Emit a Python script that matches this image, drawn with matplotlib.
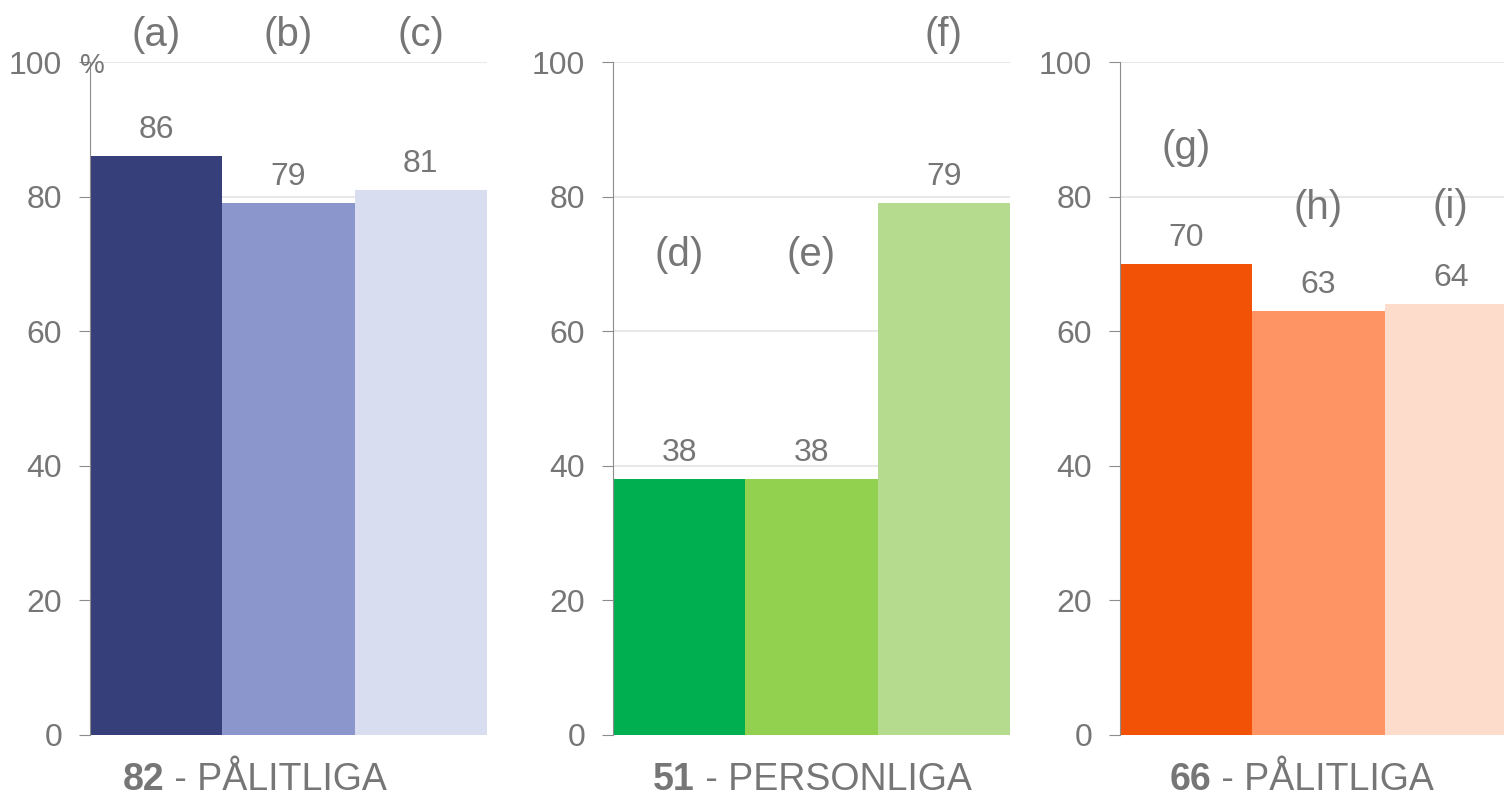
import matplotlib.pyplot as plt

plt.rcParams['font.family'] = ['Liberation Sans', 'DejaVu Sans']

# data
group_titles = ['82', '51', '66']
group_names = ['PÅLITLIGA', 'PERSONLIGA', 'PÅLITLIGA']
letters = [['(a)', '(b)', '(c)'], ['(d)', '(e)', '(f)'], ['(g)', '(h)', '(i)']]
values = [[86, 79, 81], [38, 38, 79], [70, 63, 64]]
letter_y = [[104, 104, 104], [71.3, 71.3, 104], [87.2, 78.3, 78.5]]
colors = [['#373F7A', '#8A96CC', '#D8DDEF'],
          ['#00B050', '#92D050', '#B5DB8E'],
          ['#F15206', '#FE9464', '#FDDCCC']]

GRAY = '#767676'
W, H = 1504, 799


def make_graph():
    fig = plt.figure(figsize=(W / 100, H / 100), dpi=100)
    lefts = [90, 613, 1120]
    title_x = [164, 695, 1211]
    for i in range(3):
        ax = fig.add_axes([lefts[i] / W, 1 - 735 / H, 397 / W, (735 - 62) / H])
        ax.bar(range(3), values[i], width=1.0, color=colors[i], zorder=2)
        ax.set_xlim(-0.5, 2.5)
        ax.set_ylim(0, 100)
        ax.set_yticks(range(0, 101, 20))
        ax.yaxis.grid(True, color='#e8e8e8', lw=1.5, zorder=0)
        ax.set_xticks([])
        for s in ['top', 'right', 'bottom']:
            ax.spines[s].set_visible(False)
        ax.spines['left'].set_color('#8c8c8c')
        ax.tick_params(axis='y', length=8, color='#8c8c8c', labelcolor=GRAY,
                       labelsize=23, pad=12)
        for j in range(3):
            ax.text(j, values[i][j] + 2.7, str(values[i][j]), ha='center', va='baseline',
                    color=GRAY, fontsize=23)
            ax.text(j, letter_y[i][j], letters[i][j], ha='center', va='center',
                    color=GRAY, fontsize=29, clip_on=False)
        t1 = fig.text(title_x[i] / W, 1 - 780 / H, group_titles[i], fontsize=27,
                      fontweight='bold', color=GRAY, ha='right', va='center')
        ax.annotate(' - ' + group_names[i], xy=(1, 0.5), xycoords=t1, va='center',
                    ha='left', fontsize=27, color=GRAY, annotation_clip=False)
        if i == 0:
            fig.text(92 / W, 1 - 66 / H, '%', ha='center', va='center',
                     color=GRAY, fontsize=20)
    fig.savefig('out.png', dpi=100)


if __name__ == '__main__':
    make_graph()
